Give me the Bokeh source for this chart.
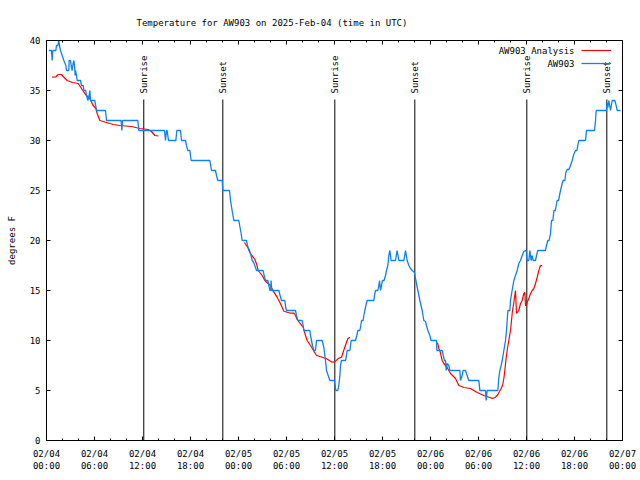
import numpy as np
import pandas as pd
from bokeh.plotting import figure
from bokeh.models import (FixedTicker, DatetimeTickFormatter, DatetimeAxis, LinearAxis,
                          Legend, LegendItem, Label, Range1d)
from bokeh.embed import file_html
from bokeh.resources import INLINE
from bokeh.core.properties import value

START = pd.Timestamp("2025-02-04 00:00")
FONT = "DejaVu Sans Mono"

# AW903 observations (hours after 02/04 00:00 UTC, deg F)
obs_hours = [0.29, 0.62, 0.71, 0.79, 1.17, 1.25, 1.42, 1.54, 1.62, 1.75, 1.96, 2.17, 2.42, 2.5, 2.79, 2.83,
             3.0, 3.08, 3.21, 3.33, 3.42, 3.5, 3.58, 3.625, 3.75, 3.83, 4.25, 4.375, 4.6, 4.67, 4.9, 5.0,
             5.17, 5.33, 5.42, 5.5, 6.04, 6.15, 6.25, 7.375, 7.5, 9.33, 9.42, 9.5, 11.42, 11.54, 14.75,
             14.875, 15.0, 15.08, 15.25, 16.17, 16.29, 16.75, 16.875, 17.375, 17.5, 17.67, 17.92, 18.08,
             20.42, 20.625, 21.125, 21.25, 21.42, 21.96, 22.04, 22.875, 23.0, 23.2, 23.42, 24.04, 24.17,
             24.33, 24.46, 25.0, 25.1, 25.29, 25.5, 25.71, 25.9, 26.25, 27.08, 27.2, 27.375, 27.67, 27.8,
             27.92, 28.0, 28.08, 28.15, 29.04, 29.2, 29.375, 29.79, 29.9, 30.0, 31.125, 31.25, 31.42,
             31.96, 32.08, 32.17, 32.92, 33.0, 33.125, 33.25, 33.42, 33.625, 33.75, 34.46, 34.67, 34.875,
             35.0, 35.21, 35.42, 36.0, 36.08, 36.17, 36.42, 36.54, 36.67, 36.75, 36.875, 37.375, 37.5,
             37.58, 37.92, 38.08, 38.625, 38.79, 38.92, 39.17, 39.29, 39.375, 39.58, 39.67, 39.79, 39.92,
             40.08, 40.92, 41.0, 41.125, 41.42, 41.54, 41.625, 41.75, 41.875, 42.0, 42.2, 42.375, 42.5,
             42.67, 42.79, 42.92, 43.08, 43.625, 43.83, 44.04, 44.67, 44.875, 45.08, 45.3, 45.5, 45.71,
             46.0, 46.125, 46.42, 46.67, 46.96, 47.17, 47.375, 47.5, 47.67, 47.92, 48.08, 48.75, 48.8,
             49.46, 49.6, 49.75, 49.875, 49.96, 50.08, 50.29, 50.42, 51.67, 51.75, 51.96, 52.08, 52.375,
             52.58, 52.79, 54.04, 54.17, 54.875, 54.96, 55.08, 56.42, 56.54, 56.67, 56.83, 56.96, 57.17,
             57.375, 57.5, 57.67, 57.92, 58.0, 58.2, 58.42, 58.625, 58.83, 59.04, 59.25, 59.46, 59.67,
             59.875, 60.0, 60.08, 60.29, 60.42, 60.58, 60.71, 60.83, 61.125, 61.25, 61.42, 62.375, 62.5,
             62.67, 62.83, 63.0, 63.125, 63.3, 63.42, 63.6, 63.83, 64.0, 64.25, 64.46, 64.58, 64.8, 64.92,
             65.08, 65.3, 65.5, 65.71, 65.9, 66.125, 66.3, 66.54, 67.375, 67.5, 68.5, 68.625, 68.71, 70.0,
             70.08, 70.17, 70.29, 70.5, 70.71, 71.04, 71.21, 71.33, 71.75]
obs_temp = [39, 39, 38, 39, 39, 39.5, 39.5, 40, 39.5, 39, 38.5, 38, 37.5, 37, 37, 38,
            38, 37.5, 37, 37.7, 38, 37.5, 36.5, 37, 36.5, 36, 36, 35.5, 35.5, 35, 35, 34.5,
            34, 34.5, 35, 34, 34, 33.5, 33, 33, 32, 32, 31, 32, 32, 31, 31,
            30, 31, 31, 30, 30, 31, 31, 30, 30, 29.5, 29, 29, 28,
            28, 27, 27, 26.5, 26, 26, 25, 25, 24, 23, 22, 22, 21.4,
            20.7, 20, 20, 19.6, 19, 18.7, 18, 17.8, 17, 17, 16.5, 16, 16, 15.5,
            15, 15, 16, 15, 15, 14.5, 14, 14, 13.3, 13, 13, 12.5, 12,
            12, 11.5, 11, 11, 10.5, 10, 9.5, 9, 9, 10, 10, 9.3, 8,
            7, 6.5, 6, 6, 5.5, 5, 5, 5.5, 6.5, 7.5, 8, 8, 8.5,
            9, 9, 10, 10, 10.5, 11, 11, 11.5, 12, 12, 12.5, 13, 13.5,
            14, 14, 14.5, 15, 15, 15.5, 16, 15, 15.5, 16, 16, 16.5, 17,
            17.5, 18.5, 19, 18, 18, 19, 18, 18, 19, 18, 17.5, 17.2, 17,
            16.8, 16.2, 15, 14, 13, 12, 11.9, 11.5, 11, 10.5, 10, 10, 9,
            9, 8.5, 8, 8, 7, 7.7, 7.5, 7, 7, 6, 6.5, 7, 7,
            6.5, 6, 6, 5, 5, 4, 5, 5, 6.3, 7, 7.5, 8, 9,
            10, 11, 13, 13, 14, 15, 16, 16.5, 17, 17.7, 18, 18.5, 18.9,
            19, 18.9, 18, 18, 19, 18, 18.5, 18, 18, 18.5, 19, 19, 19.5,
            20, 20, 20.7, 22, 22, 23, 23, 24, 24, 25, 25.7, 26, 26, 26.8,
            27.1, 27.1, 27.5, 28, 28.6, 29, 29, 30, 30, 31, 31, 32, 33, 33,
            33.8, 33.3, 34, 33, 34, 34, 33.5, 33, 33]

# AW903 Analysis (three runs, NaN separates them)
ana_hours = [0.71, 1.17, 1.46, 1.875, 2.08, 2.58, 3.25, 3.96, 4.375, 4.79, 5.0, 5.42, 5.83, 6.17, 6.33,
             6.67, 7.5, 8.33, 9.17, 10.625, 11.67, 12.71, 13.125, 13.54, 14.0,
             19.0,
             24.75, 24.9, 25.29, 25.5, 26.0, 26.25, 26.46, 26.96, 27.29, 27.71, 28.0, 28.42, 28.83, 29.25,
             29.67, 30.5, 30.92, 31.125, 31.33, 31.75, 32.08, 32.25, 32.58, 33.0, 33.5, 33.75, 34.46, 35.0,
             35.5, 35.71, 36.0, 36.42, 36.67, 36.875, 37.08, 37.29, 37.5, 37.67, 37.92,
             43.0,
             48.75, 48.9, 49.04, 49.17, 49.46, 49.67, 50.08, 50.29, 50.5, 51.125, 51.54, 52.17, 53.0, 53.83,
             54.67, 55.42, 55.71, 56.125, 56.42, 56.83, 57.0, 57.17, 57.29, 57.42, 57.58, 57.79, 58.0,
             58.125, 58.25, 58.42, 58.5, 58.625, 58.75, 59.04, 59.25, 59.46, 59.67, 59.79, 59.875, 60.0,
             60.08, 60.29, 60.5, 60.71, 60.92, 61.125, 61.33, 61.54, 61.75, 61.96]
ana_temp = [36.33, 36.37, 36.6, 36.6, 36.4, 36.0, 35.8, 35.7, 35.2, 34.7, 34.5, 34.2, 33.5, 33.2, 32.7,
            32.0, 31.8, 31.6, 31.5, 31.4, 31.2, 31.1, 30.9, 30.5, 30.45,
            np.nan,
            19.8, 19.6, 19.17, 18.67, 18.17, 17.67, 17.0, 16.5, 16.0, 15.67, 15.5, 14.83, 14.33, 13.67,
            12.93, 12.73, 12.73, 12.5, 12.1, 11.67, 11.33, 10.83, 10.0, 9.5, 8.83, 8.5, 8.33, 8.17,
            7.93, 7.83, 7.83, 8.17, 8.27, 8.33, 8.83, 9.33, 9.83, 10.17, 10.33,
            np.nan,
            9.8, 9.7, 9.2, 9.0, 8.0, 7.7, 7.3, 7.0, 6.7, 6.2, 5.5, 5.3, 5.2, 4.8,
            4.5, 4.3, 4.2, 4.33, 4.6, 5.2, 5.5, 6.2, 7.0, 8.0, 9.0, 10.0, 11.0,
            12.0, 13.0, 13.8, 14.3, 15.0, 12.7, 13.0, 13.7, 14.0, 14.7, 14.8, 13.5, 13.5,
            13.8, 14.2, 14.7, 15.0, 15.2, 15.7, 16.3, 17.0, 17.5, 17.5]

event_hours = [12.16, 22.04, 36.04, 46.04, 60.04, 70.04]
event_names = ["Sunrise", "Sunset", "Sunrise", "Sunset", "Sunrise", "Sunset"]
event_top = 34.1

x_tick_hours = [0, 6, 12, 18, 24, 30, 36, 42, 48, 54, 60, 66, 72]
x_minor_hours = list(range(0, 73, 2))
y_ticks = [0, 5, 10, 15, 20, 25, 30, 35, 40]

title_text = "Temperature for AW903 on 2025-Feb-04 (time in UTC)"


def to_time(hours):
    return START + pd.to_timedelta(np.asarray(hours, dtype=float), unit="h")


def to_ms(hours):
    return [(START + pd.Timedelta(hours=h)).value / 1e6 for h in hours]


obs_x = to_time(obs_hours)
ana_x = to_time(ana_hours)
ev_x = to_time(event_hours)

p = figure(x_axis_type="datetime", frame_width=576, frame_height=400,
           x_range=Range1d(START, START + pd.Timedelta(hours=72)), y_range=Range1d(0, 40),
           output_backend="svg", toolbar_location=None,
           min_border_left=46, min_border_right=18, min_border_top=40, min_border_bottom=40)
p.background_fill_color = "white"
p.border_fill_color = "white"
p.outline_line_color = "black"
p.xgrid.visible = False
p.ygrid.visible = False

p.title.text = title_text
p.title.align = "left"
p.title.offset = 90
p.title.text_font = FONT
p.title.text_font_size = "9px"
p.title.text_font_style = "normal"
p.title.text_color = "black"
p.title.standoff = 25

xticker = FixedTicker(ticks=to_ms(x_tick_hours), minor_ticks=to_ms(x_minor_hours))
fmt = "%m/%d\n%H:%M"
xfmt = DatetimeTickFormatter(microseconds=fmt, milliseconds=fmt, seconds=fmt, minsec=fmt,
                             minutes=fmt, hourmin=fmt, hours=fmt, days=fmt, months=fmt, years=fmt)
yticker = FixedTicker(ticks=y_ticks, minor_ticks=[])


def style_axis(ax):
    ax.major_tick_in = 4
    ax.major_tick_out = 0
    ax.minor_tick_in = 2
    ax.minor_tick_out = 0
    ax.axis_line_color = "black"
    ax.major_tick_line_color = "black"
    ax.minor_tick_line_color = "black"
    ax.major_label_text_font = FONT
    ax.major_label_text_font_size = "9px"
    ax.major_label_text_color = "black"


xa = p.xaxis[0]
xa.ticker = xticker
xa.formatter = xfmt
style_axis(xa)
xa.major_label_standoff = 8

ya = p.yaxis[0]
ya.ticker = yticker
style_axis(ya)
ya.major_label_standoff = 6
ya.axis_label = "degrees F"
ya.axis_label_text_font = FONT
ya.axis_label_text_font_size = "9px"
ya.axis_label_text_font_style = "normal"
ya.axis_label_text_color = "black"
ya.axis_label_standoff = 10

top = DatetimeAxis(ticker=xticker, formatter=xfmt)
style_axis(top)
top.major_label_text_color = None
top.major_label_text_font_size = "0px"
top.major_label_standoff = 0
p.add_layout(top, "above")

right = LinearAxis(ticker=yticker)
style_axis(right)
right.major_label_text_color = None
right.major_label_text_font_size = "0px"
right.major_label_standoff = 0
p.add_layout(right, "right")

p.segment(x0=ev_x, y0=0, x1=ev_x, y1=event_top, line_color="black", line_width=1)
p.text(x=ev_x, y=event_top + 0.6, text=event_names, angle=np.pi / 2,
       text_align="left", text_baseline="middle",
       text_font=value(FONT), text_font_size="9px", text_color="black")

red = p.line(ana_x, ana_temp, line_color="#ff0000", line_width=1.2)
blue = p.line(obs_x, obs_temp, line_color="#1080f0", line_width=1.3)

legend = Legend(items=[LegendItem(label=value(""), renderers=[red]),
                       LegendItem(label=value(""), renderers=[blue])],
                location=(535, 371), glyph_width=30, glyph_height=12, label_width=0,
                label_standoff=0, label_height=12, spacing=1, padding=0, margin=0,
                border_line_color=None, background_fill_alpha=0)
p.add_layout(legend)

for txt, yy in [("AW903 Analysis", 390), ("AW903", 377)]:
    p.add_layout(Label(x=528, y=yy, x_units="screen", y_units="screen", text=txt,
                       text_align="right", text_baseline="middle",
                       text_font=FONT, text_font_size="9px", text_color="black"))

open("out.html", "w").write(file_html(p, INLINE))
